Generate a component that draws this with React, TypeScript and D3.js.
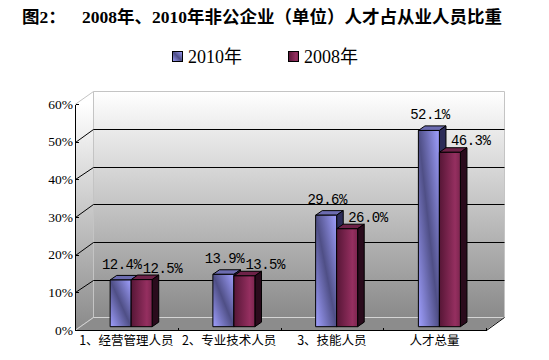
import React from "react";
import * as d3 from "d3";

const categories = ["1、经营管理人员", "2、专业技术人员", "3、技能人员", "人才总量"];
const seriesNames = ["2010年", "2008年"];
const values2010 = [12.4, 13.9, 29.6, 52.1];
const values2008 = [12.5, 13.5, 26.0, 46.3];
const yTicks = [0, 10, 20, 30, 40, 50, 60];
const titleLead = "图2：";
const titleText = "2008年、2010年非公企业（单位）人才占从业人员比重";

const W = 549;
const H = 360;

export default function App() {
  const x0 = 75, x1 = 486;
  const DX = 18.3, DY = -12.7;
  const x = d3.scaleBand<string>().domain(categories).range([x0, x1]);
  const y = d3.scaleLinear().domain([0, 60]).range([330, 104]);
  const barW = 21;
  const frontD = 0.26;
  const depthD = 0.36;
  const ddx = depthD * DX, ddy = depthD * DY;
  const fx = frontD * DX, fy = frontD * DY;
  const snap = (v: number) => Math.round(v) + 0.5;

  const yTop = y(60), yBot = y(0);
  const bx0 = x0 + DX, bx1 = x1 + DX;
  const byTop = snap(yTop + DY), byBot = snap(yBot + DY);

  const series = [
    { name: seriesNames[0], values: values2010, front: "url(#gBlue)", top: "#6c6cb0", side: "#2c2c58" },
    { name: seriesNames[1], values: values2008, front: "url(#gRed)", top: "#6e2248", side: "#2a0b1c" },
  ];

  const bars: JSX.Element[] = [];
  const labels: JSX.Element[] = [];
  categories.forEach((c, i) => {
    const cx = (x(c) as number) + x.bandwidth() / 2 + fx;
    series.forEach((s, si) => {
      const v = s.values[i];
      const xl = si === 0 ? cx - barW : cx;
      const xr = xl + barW;
      const yt = y(v) + fy;
      const yb = y(0) + fy;
      bars.push(
        <g key={`b${i}-${si}`} stroke="#000" strokeWidth={1} strokeLinejoin="round">
          <polygon
            points={`${xl},${yt} ${xr},${yt} ${xr + ddx},${yt + ddy} ${xl + ddx},${yt + ddy}`}
            fill={s.top}
          />
          <polygon
            points={`${xr},${yt} ${xr + ddx},${yt + ddy} ${xr + ddx},${yb + ddy} ${xr},${yb}`}
            fill={s.side}
          />
          <rect x={xl} y={yt} width={barW} height={yb - yt} fill={s.front} />
        </g>
      );
      const label = v.toFixed(1) + "%";
      if (si === 0) {
        labels.push(
          <text key={`l${i}-${si}`} x={xl + barW / 2 + 1} y={yt - 11} textAnchor="middle">
            {label}
          </text>
        );
      } else {
        labels.push(
          <text key={`l${i}-${si}`} x={xl + barW / 2 + 1} y={yt - 7} textAnchor="start">
            {label}
          </text>
        );
      }
    });
  });

  return (
    <svg
      width={W}
      height={H}
      style={{ position: "absolute", left: 0, top: 0, background: "#fff" }}
    >
      <defs>
        <linearGradient id="gWall" gradientUnits="userSpaceOnUse" x1="0" y1={yTop + DY} x2="0" y2={yBot + DY}>
          <stop offset="0" stopColor="#ffffff" />
          <stop offset="1" stopColor="#8a8a8a" />
        </linearGradient>
        <linearGradient id="gLeft" gradientUnits="userSpaceOnUse" x1="0" y1={yTop} x2="0" y2={yBot}>
          <stop offset="0" stopColor="#ffffff" />
          <stop offset="1" stopColor="#8a8a8a" />
        </linearGradient>
        <linearGradient id="gBlue" x1="0" y1="1" x2="1" y2="0">
          <stop offset="0" stopColor="#a0a0ff" />
          <stop offset="0.5" stopColor="#4f4f86" />
          <stop offset="1" stopColor="#a0a0ff" />
        </linearGradient>
        <linearGradient id="gRed" x1="0" y1="0" x2="1" y2="0">
          <stop offset="0" stopColor="#561636" />
          <stop offset="0.75" stopColor="#952f60" />
          <stop offset="1" stopColor="#7c264f" />
        </linearGradient>
      </defs>

      {/* title */}
      <text
        y={23}
        fontFamily="'Liberation Serif', 'Noto Sans CJK SC', serif"
        fontWeight="bold"
        fontSize={17.5}
        fill="#000"
      >
        <tspan x={22}>{titleLead}</tspan>
        <tspan x={82}>{titleText}</tspan>
      </text>

      {/* legend */}
      <g fontFamily="'Liberation Serif', 'Noto Sans CJK SC', serif" fontSize={18} fill="#000">
        <rect x={172.5} y={51.5} width={10} height={10} fill="url(#gBlue)" stroke="#000" />
        <text x={188} y={62.5}>{seriesNames[0]}</text>
        <rect x={288.5} y={51.5} width={10} height={10} fill="url(#gRed)" stroke="#000" />
        <text x={304} y={62.5}>{seriesNames[1]}</text>
      </g>

      {/* walls */}
      <polygon points={`${x0},${yTop} ${bx0},${yTop + DY} ${bx0},${yBot + DY} ${x0},${yBot}`} fill="url(#gLeft)" />
      <rect x={bx0} y={yTop + DY} width={bx1 - bx0} height={yBot - yTop} fill="url(#gWall)" />
      <polygon points={`${x0},${yBot} ${bx0},${yBot + DY} ${bx1},${yBot + DY} ${x1},${yBot}`} fill="#8c8c8c" />

      {/* wall borders (light) */}
      <g stroke="#c4c4c4" strokeWidth={1} fill="none">
        <path d={`M${x0},${snap(yTop)} L${snap(bx0)},${byTop} L${snap(bx1)},${byTop} L${snap(bx1)},${byBot}`} />
        <path d={`M${snap(bx0)},${byTop} L${snap(bx0)},${byBot}`} />
        <path d={`M${x0},${snap(yBot)} L${snap(bx0)},${byBot} L${snap(bx1)},${byBot}`} stroke="#d4d4d4" />
      </g>
      <path d={`M${snap(x1)},${snap(yBot)} L${snap(bx1)},${byBot}`} stroke="#000" fill="none" />

      {/* gridlines */}
      <g stroke="#000" strokeWidth={1} fill="none">
        {yTicks.filter((t) => t > 0 && t < 60).map((t) => (
          <path
            key={t}
            d={`M${snap(x0)},${snap(y(t))} L${snap(bx0)},${snap(y(t) + DY)} L${snap(bx1)},${snap(y(t) + DY)}`}
          />
        ))}
      </g>

      {/* bars */}
      {bars}

      {/* axes */}
      <g stroke="#000" strokeWidth={1} fill="none" shapeRendering="crispEdges">
        <path d={`M${snap(x0)},${snap(yTop)} V${snap(yBot)} H${snap(x1)}`} />
        {yTicks.map((t) => (
          <path key={t} d={`M${snap(x0)},${snap(y(t))} H${snap(x0) + 3}`} />
        ))}
        {d3.range(categories.length + 1).map((k) => {
          const xx = snap(x0 + k * x.step());
          return <path key={k} d={`M${xx},${snap(yBot) - 3} V${snap(yBot)}`} />;
        })}
      </g>

      {/* y tick labels */}
      <g fontFamily="'Liberation Serif', serif" fontSize={13.5} fill="#000" textAnchor="end">
        {yTicks.map((t) => (
          <text key={t} x={73} y={y(t)} dy="0.35em">
            {t}%
          </text>
        ))}
      </g>

      {/* category labels */}
      <g fontFamily="'Noto Sans CJK SC', sans-serif" fontSize={12.5} fill="#000" textAnchor="middle">
        {categories.map((c) => (
          <text key={c} x={(x(c) as number) + x.bandwidth() / 2} y={345}>
            {c}
          </text>
        ))}
      </g>

      {/* data labels */}
      <g
        fontFamily="'Liberation Mono', 'DejaVu Sans Mono', monospace"
        fontSize={14}
        letterSpacing={-0.5}
        fill="#000"
      >
        {labels}
      </g>
    </svg>
  );
}
